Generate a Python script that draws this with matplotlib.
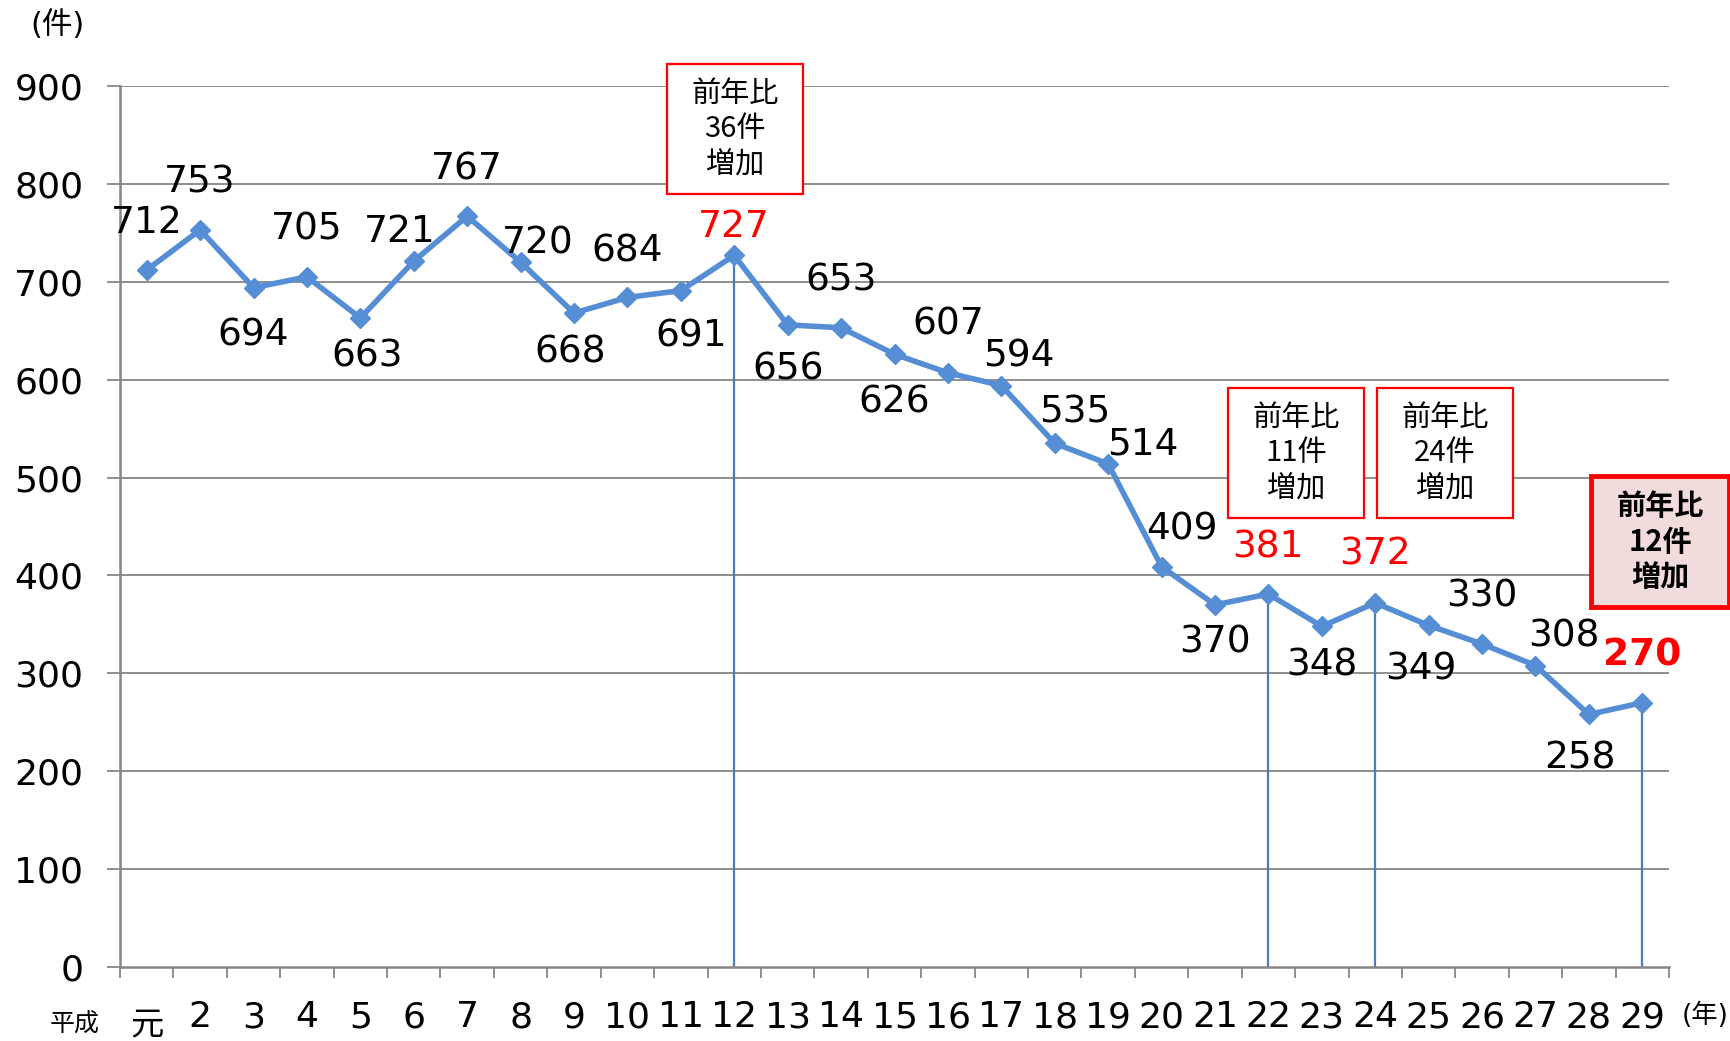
import matplotlib
matplotlib.use("Agg")
import matplotlib.pyplot as plt
from matplotlib.patches import Rectangle
import numpy as np

plt.rcParams['font.family'] = ['DejaVu Sans', 'Noto Sans CJK JP']

# ---- data ----
years = ['元', '2', '3', '4', '5', '6', '7', '8', '9', '10', '11', '12', '13', '14',
         '15', '16', '17', '18', '19', '20', '21', '22', '23', '24', '25', '26', '27',
         '28', '29']
cases = [712, 753, 694, 705, 663, 721, 767, 720, 668, 684, 691, 727, 656, 653,
         626, 607, 594, 535, 514, 409, 370, 381, 348, 372, 349, 330, 308, 258, 270]
highlight_years = ['12', '22', '24', '29']
box_texts = ['前年比\n36件\n増加', '前年比\n11件\n増加', '前年比\n24件\n増加', '前年比\n12件\n増加']
y_ticks = [0, 100, 200, 300, 400, 500, 600, 700, 800, 900]

# label offsets (pixels) relative to each point
label_offsets = [(0, 50), (0, 50), (0, -45), (0, 50), (7, -36), (-14, 32), (0, 50),
                 (17, 22), (-4, -36), (0, 49), (10, -43), (0, 31), (0, -42), (0, 50),
                 (0, -45), (0, 51), (17, 32), (20, 34), (35, 22), (20, 40), (0, -35),
                 (0, 50), (0, -36), (0, 51), (-8, -41), (0, 50), (28, 32), (-9, -41),
                 (0, 50)]
LABEL_SHIFT = -3

W, H = 1731, 1041
fig = plt.figure(figsize=(W / 100, H / 100), dpi=100)
ax = fig.add_axes([120 / W, 1 - 967 / H, (1669 - 120) / W, (967 - 86) / H])

x = np.arange(len(years))
LINE = '#558ED5'
DROP = '#4A7EBB'
GRID = '#868686'

ax.set_xlim(-0.5, len(years) - 0.5)
ax.set_ylim(0, 900)

for yv in y_ticks[1:]:
    ax.axhline(yv, color=GRID, lw=1.3, zorder=1)

hi_idx = [years.index(h) for h in highlight_years]
ax.vlines([x[i] for i in hi_idx], 0, [cases[i] for i in hi_idx], color=DROP, lw=1.6, zorder=2)

ax.plot(x, cases, color=LINE, lw=4.0, marker='D', markersize=10.5, mfc=LINE, mec=LINE,
        zorder=3, clip_on=False)

for i, (v, (dx, dy)) in enumerate(zip(cases, label_offsets)):
    red = i in hi_idx
    bold = (i == hi_idx[-1])
    ax.annotate(str(v), (x[i], v), xytext=(dx, dy + LABEL_SHIFT), textcoords='offset pixels',
                ha='center', va='center', fontsize=27,
                color='#FF0000' if red else 'black',
                fontweight='bold' if bold else 'normal', zorder=5)

# spines
for s in ['top', 'right']:
    ax.spines[s].set_visible(False)
for s in ['left', 'bottom']:
    ax.spines[s].set_color(GRID)
    ax.spines[s].set_linewidth(1.8)

ax.set_yticks(y_ticks)
ax.set_yticklabels([str(t) for t in y_ticks], fontsize=26)
ax.tick_params(axis='y', length=9.5, width=1.3, color=GRID, pad=17)

ax.set_xticks(x)
ax.set_xticklabels(years, fontsize=26)
ax.tick_params(axis='x', which='major', length=0, pad=24)
ax.set_xticks(np.arange(-0.5, len(years), 1), minor=True)
ax.tick_params(axis='x', which='minor', length=8, width=1.3, color=GRID, direction='out')
for lab in ax.get_xticklabels():
    if lab.get_text() == '元':
        lab.set_visible(False)
        ax.annotate(lab.get_text(), xy=(x[years.index('元')], 0),
                    xycoords=('data', 'axes fraction'), xytext=(0, -58),
                    textcoords='offset pixels', ha='center', va='center',
                    fontsize=24, family='Noto Sans CJK JP', annotation_clip=False)

# unit labels
fig.text(58 / W, 1 - 25 / H, '(件)', fontsize=22, ha='center', va='center')
fig.text(75 / W, 1 - 1024 / H, '平成', fontsize=18, ha='center', va='center',
         family='Noto Sans CJK JP')
fig.text(1729 / W, 1 - 1016 / H, '(年)', fontsize=19, ha='right', va='center')

# annotation boxes (pixel geometry)
boxes = [(667, 64, 136, 130), (1228, 388, 136, 130), (1377, 388, 136, 130), (1591, 476, 138, 131)]
for k, ((bx, by, bw, bh), txt) in enumerate(zip(boxes, box_texts)):
    last = (k == len(boxes) - 1)
    rect = Rectangle((bx / W, 1 - (by + bh) / H), bw / W, bh / H, transform=fig.transFigure,
                     facecolor='#F2DCDB' if last else 'white', edgecolor='#FF0000',
                     linewidth=3.5 if last else 1.6, zorder=10)
    fig.add_artist(rect)
    fig.text((bx + bw / 2) / W, 1 - (by + bh / 2) / H, txt, ha='center', va='center',
             fontsize=21, family='Noto Sans CJK JP', linespacing=1.22,
             fontweight='bold' if last else 'normal', zorder=11)

fig.savefig('out.png', dpi=100)
